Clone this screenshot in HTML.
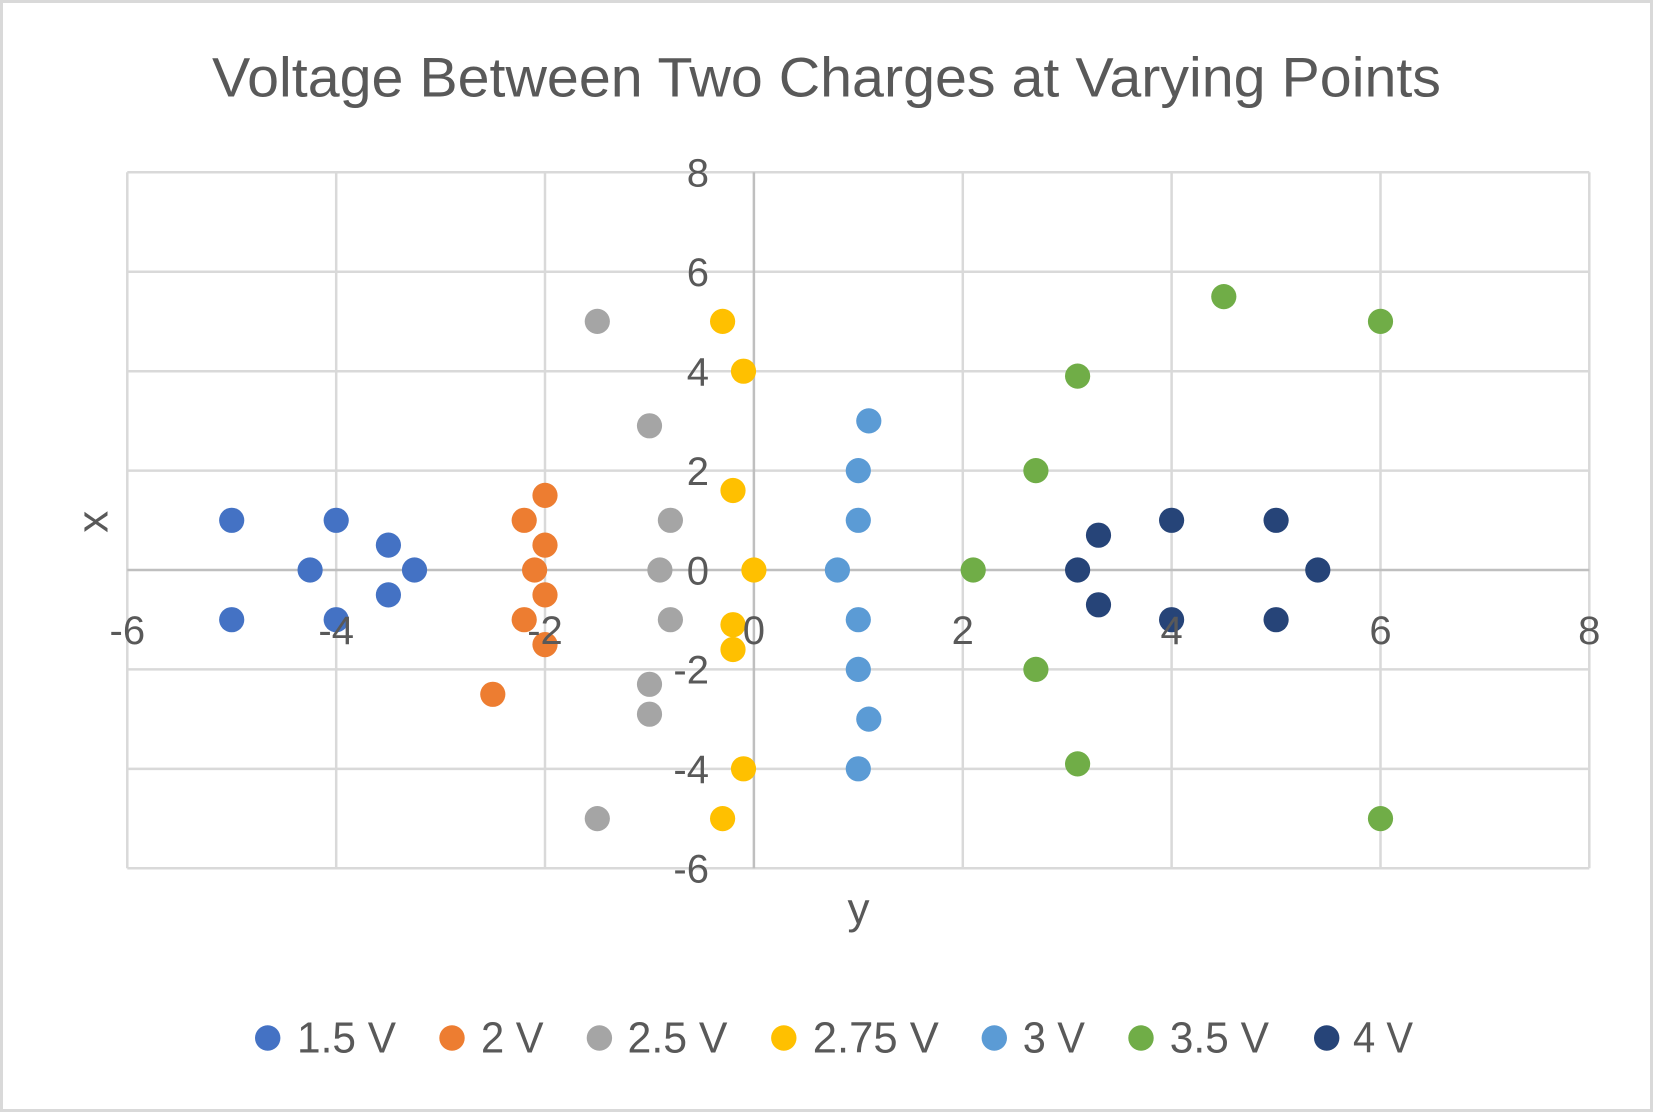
<!DOCTYPE html>
<html>
<head>
<meta charset="utf-8">
<style>
html,body{margin:0;padding:0;background:#fff;}
svg{display:block;}
text{font-family:"Liberation Sans",Arial,sans-serif;fill:#595959;}
</style>
</head>
<body>
<svg width="1653" height="1112" viewBox="0 0 1653 1112" xmlns="http://www.w3.org/2000/svg">
<rect x="0" y="0" width="1653" height="1112" fill="#fff"/>
<rect x="1.5" y="1.5" width="1650" height="1109" fill="none" stroke="#d9d9d9" stroke-width="3"/>

<!-- title -->
<text x="826.5" y="96.7" font-size="56" text-anchor="middle" textLength="1229" lengthAdjust="spacingAndGlyphs">Voltage Between Two Charges at Varying Points</text>

<!-- gridlines -->
<g stroke="#d9d9d9" stroke-width="2.5">
<line x1="127.3" y1="172.3" x2="127.3" y2="868.3"/>
<line x1="336.2" y1="172.3" x2="336.2" y2="868.3"/>
<line x1="545.0" y1="172.3" x2="545.0" y2="868.3"/>
<line x1="962.8" y1="172.3" x2="962.8" y2="868.3"/>
<line x1="1171.6" y1="172.3" x2="1171.6" y2="868.3"/>
<line x1="1380.5" y1="172.3" x2="1380.5" y2="868.3"/>
<line x1="1589.3" y1="172.3" x2="1589.3" y2="868.3"/>
<line x1="127.3" y1="172.3" x2="1589.3" y2="172.3"/>
<line x1="127.3" y1="271.7" x2="1589.3" y2="271.7"/>
<line x1="127.3" y1="371.2" x2="1589.3" y2="371.2"/>
<line x1="127.3" y1="470.6" x2="1589.3" y2="470.6"/>
<line x1="127.3" y1="669.4" x2="1589.3" y2="669.4"/>
<line x1="127.3" y1="768.9" x2="1589.3" y2="768.9"/>
<line x1="127.3" y1="868.3" x2="1589.3" y2="868.3"/>
</g>
<!-- axes -->
<g stroke="#bfbfbf" stroke-width="2.5">
<line x1="753.9" y1="172.3" x2="753.9" y2="868.3"/>
<line x1="127.3" y1="570" x2="1589.3" y2="570"/>
</g>

<g fill="#4472C4">
<circle cx="231.7" cy="520.3" r="12.6"/>
<circle cx="336.2" cy="520.3" r="12.6"/>
<circle cx="388.4" cy="545.1" r="12.6"/>
<circle cx="310.1" cy="570" r="12.6"/>
<circle cx="414.5" cy="570" r="12.6"/>
<circle cx="231.7" cy="619.7" r="12.6"/>
<circle cx="336.2" cy="619.7" r="12.6"/>
<circle cx="388.4" cy="594.9" r="12.6"/>
</g>
<g fill="#ED7D31">
<circle cx="545.0" cy="495.4" r="12.6"/>
<circle cx="524.2" cy="520.3" r="12.6"/>
<circle cx="545.0" cy="545.1" r="12.6"/>
<circle cx="534.6" cy="570" r="12.6"/>
<circle cx="545.0" cy="594.9" r="12.6"/>
<circle cx="524.2" cy="619.7" r="12.6"/>
<circle cx="545.0" cy="644.6" r="12.6"/>
<circle cx="492.8" cy="694.3" r="12.6"/>
</g>
<g fill="#A5A5A5">
<circle cx="597.3" cy="321.4" r="12.6"/>
<circle cx="649.5" cy="425.8" r="12.6"/>
<circle cx="670.4" cy="520.3" r="12.6"/>
<circle cx="659.9" cy="570" r="12.6"/>
<circle cx="670.4" cy="619.7" r="12.6"/>
<circle cx="649.5" cy="684.3" r="12.6"/>
<circle cx="649.5" cy="714.2" r="12.6"/>
<circle cx="597.3" cy="818.6" r="12.6"/>
</g>
<g fill="#FFC000">
<circle cx="722.6" cy="321.4" r="12.6"/>
<circle cx="743.5" cy="371.2" r="12.6"/>
<circle cx="733.0" cy="490.5" r="12.6"/>
<circle cx="753.9" cy="570" r="12.6"/>
<circle cx="733.0" cy="624.7" r="12.6"/>
<circle cx="733.0" cy="649.5" r="12.6"/>
<circle cx="743.5" cy="768.8" r="12.6"/>
<circle cx="722.6" cy="818.6" r="12.6"/>
</g>
<g fill="#5B9BD5">
<circle cx="868.8" cy="420.9" r="12.6"/>
<circle cx="858.3" cy="470.6" r="12.6"/>
<circle cx="858.3" cy="520.3" r="12.6"/>
<circle cx="837.4" cy="570" r="12.6"/>
<circle cx="858.3" cy="619.7" r="12.6"/>
<circle cx="858.3" cy="669.4" r="12.6"/>
<circle cx="868.8" cy="719.1" r="12.6"/>
<circle cx="858.3" cy="768.8" r="12.6"/>
</g>
<g fill="#70AD47">
<circle cx="1223.8" cy="296.6" r="12.6"/>
<circle cx="1380.5" cy="321.4" r="12.6"/>
<circle cx="1077.6" cy="376.1" r="12.6"/>
<circle cx="1035.9" cy="470.6" r="12.6"/>
<circle cx="973.2" cy="570" r="12.6"/>
<circle cx="1035.9" cy="669.4" r="12.6"/>
<circle cx="1077.6" cy="763.9" r="12.6"/>
<circle cx="1380.5" cy="818.6" r="12.6"/>
</g>
<g fill="#264478">
<circle cx="1098.5" cy="535.2" r="12.6"/>
<circle cx="1171.6" cy="520.3" r="12.6"/>
<circle cx="1276.1" cy="520.3" r="12.6"/>
<circle cx="1077.6" cy="570" r="12.6"/>
<circle cx="1317.8" cy="570" r="12.6"/>
<circle cx="1098.5" cy="604.8" r="12.6"/>
<circle cx="1171.6" cy="619.7" r="12.6"/>
<circle cx="1276.1" cy="619.7" r="12.6"/>
</g>

<!-- y tick labels -->
<g font-size="40" text-anchor="end">
<text x="709" y="186.6">8</text>
<text x="709" y="286.0">6</text>
<text x="709" y="385.5">4</text>
<text x="709" y="484.9">2</text>
<text x="709" y="584.3">0</text>
<text x="709" y="683.7">-2</text>
<text x="709" y="783.2">-4</text>
<text x="709" y="882.6">-6</text>
</g>
<!-- x tick labels -->
<g font-size="40" text-anchor="middle">
<text x="127.3" y="644">-6</text>
<text x="336.2" y="644">-4</text>
<text x="545.0" y="644">-2</text>
<text x="753.9" y="644">0</text>
<text x="962.8" y="644">2</text>
<text x="1171.6" y="644">4</text>
<text x="1380.5" y="644">6</text>
<text x="1589.3" y="644">8</text>
</g>

<!-- axis titles -->
<text x="858.5" y="923.3" font-size="44" text-anchor="middle">y</text>
<text transform="translate(107.3,521.7) rotate(-90)" x="0" y="0" font-size="44" text-anchor="middle">x</text>

<!-- legend -->
<g>
<circle cx="267.7" cy="1038" r="12.7" fill="#4472C4"/>
<text x="297" y="1052.7" font-size="44" textLength="99" lengthAdjust="spacingAndGlyphs">1.5 V</text>
<circle cx="452" cy="1038" r="12.7" fill="#ED7D31"/>
<text x="481" y="1052.7" font-size="44" textLength="62.6" lengthAdjust="spacingAndGlyphs">2 V</text>
<circle cx="599.4" cy="1038" r="12.7" fill="#A5A5A5"/>
<text x="627.5" y="1052.7" font-size="44" textLength="100" lengthAdjust="spacingAndGlyphs">2.5 V</text>
<circle cx="783.8" cy="1038" r="12.7" fill="#FFC000"/>
<text x="812.8" y="1052.7" font-size="44" textLength="126" lengthAdjust="spacingAndGlyphs">2.75 V</text>
<circle cx="994.3" cy="1038" r="12.7" fill="#5B9BD5"/>
<text x="1022.7" y="1052.7" font-size="44" textLength="62.3" lengthAdjust="spacingAndGlyphs">3 V</text>
<circle cx="1141" cy="1038" r="12.7" fill="#70AD47"/>
<text x="1169.7" y="1052.7" font-size="44" textLength="99.3" lengthAdjust="spacingAndGlyphs">3.5 V</text>
<circle cx="1326.7" cy="1038" r="12.7" fill="#264478"/>
<text x="1353" y="1052.7" font-size="44" textLength="60" lengthAdjust="spacingAndGlyphs">4 V</text>
</g>
</svg>
</body>
</html>
